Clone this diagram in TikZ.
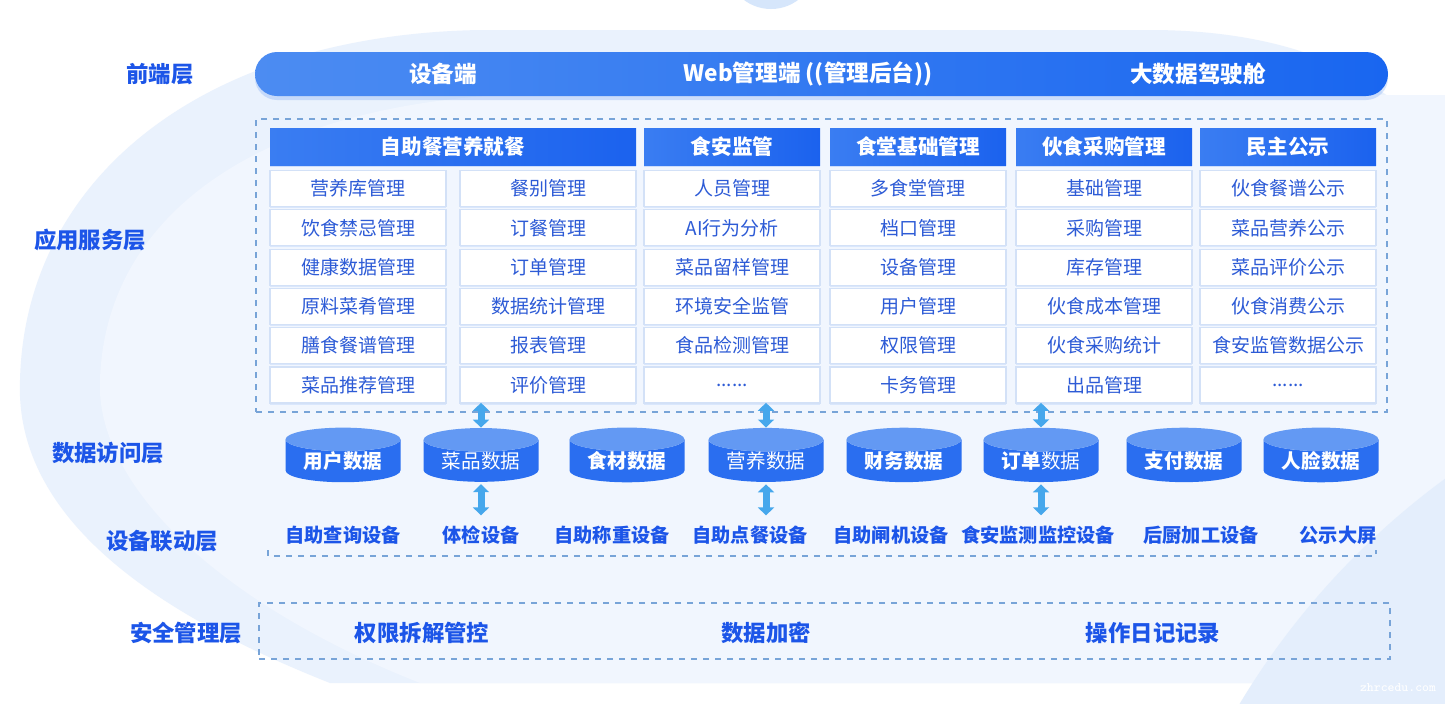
\documentclass[tikz,border=0pt]{standalone}
\usepackage{fontspec}
\setmainfont{Noto Sans CJK SC}
\newfontfamily\heavyfont{Noto Sans CJK SC Black}
\usetikzlibrary{positioning,shapes.geometric,arrows.meta,shadows}

\definecolor{layerblue}{HTML}{1C55E8}
\definecolor{cellblue}{HTML}{2D5BD6}
\definecolor{headleft}{HTML}{3A7DF2}
\definecolor{headright}{HTML}{1B62EE}
\definecolor{barleft}{HTML}{4C8CF2}
\definecolor{barright}{HTML}{1966F0}
\definecolor{dashblue}{HTML}{78A4D8}
\definecolor{arrowblue}{HTML}{46A7EC}
\definecolor{bgouter}{HTML}{EAF2FD}
\definecolor{bginner}{HTML}{F1F6FE}
\definecolor{bgcorner}{HTML}{E4EEFC}
\definecolor{bgdot}{HTML}{D6E6FB}
\definecolor{cellline}{HTML}{D3E1F7}
\definecolor{cylbody}{HTML}{2A6EF0}
\definecolor{cyltop}{HTML}{6399F3}

\tikzset{
  layer/.style={text=layerblue, inner sep=0pt, font=\heavyfont\fontsize{11.2}{13}\selectfont},
  bartext/.style={text=white, inner sep=0pt, font=\heavyfont\fontsize{11.3}{13}\selectfont},
  head/.style={minimum width=88pt, minimum height=18.5pt, inner sep=0pt,
    left color=headleft, right color=headright, text=white,
    font=\bfseries\fontsize{10.3}{12}\selectfont,
    drop shadow={shadow xshift=0pt, shadow yshift=-1pt, fill=headleft, opacity=0.2}},
  cell/.style={draw=cellline, line width=0.6pt, fill=white, minimum width=88pt,
    minimum height=18pt, inner sep=0pt, text=cellblue,
    font=\fontsize{9.5}{11}\selectfont,
    drop shadow={shadow xshift=0pt, shadow yshift=-0.8pt, fill=headleft, opacity=0.12}},
  cyl/.style={cylinder, shape border rotate=90, aspect=0.3, minimum width=57.5pt,
    minimum height=24pt, inner sep=0pt, cylinder uses custom fill,
    cylinder body fill=cylbody, cylinder end fill=cyltop, text=white,
    font=\heavyfont\fontsize{9.8}{12}\selectfont},
  devtext/.style={text=layerblue, inner sep=0pt, font=\heavyfont\fontsize{9.6}{12}\selectfont},
  sectext/.style={text=layerblue, inner sep=0pt, font=\heavyfont\fontsize{11.2}{13}\selectfont},
  dashbox/.style={draw=dashblue, dashed, line width=0.8pt, inner sep=0pt},
  biarrow/.style={{Triangle[width=8pt,length=4pt]}-{Triangle[width=8pt,length=4pt]},
    line width=3.5pt, draw=arrowblue},
}

\begin{document}
\begin{tikzpicture}[x=0.5pt, y=-0.5pt]
  \path[use as bounding box] (0,0) rectangle (1445,703);

  % background
  \begin{scope}
    \clip (0,0) rectangle (1445,703);
    \fill[white] (0,0) rectangle (1445,703);
    \fill[bgouter] (330,683) .. controls (120,600) and (15,500) .. (20,380)
      .. controls (25,180) and (200,35) .. (480,30) -- (1150,30)
      .. controls (1350,30) and (1445,120) .. (1445,200) -- (1445,683) -- cycle;
    \fill[bginner] (420,683) .. controls (210,600) and (95,480) .. (100,380)
      .. controls (105,220) and (250,110) .. (500,95) -- (1445,95) -- (1445,683) -- cycle;
    \fill[bgcorner] (1900,1100) circle (770);
    \fill[bgdot] (771,-36) circle (45);
  \end{scope}

  % layer names
  \node[layer] (l1) at (160,74) {前端层};
  \node[layer] (l2) at (90,240) {应用服务层};
  \node[layer] (l3) at (108,453) {数据访问层};
  \node[layer] (l4) at (162,541) {设备联动层};
  \node[layer] (l5) at (186,633) {安全管理层};

  % front end
  \node[rounded corners=11pt, minimum width=566.5pt, minimum height=22pt,
    left color=barleft, right color=barright,
    drop shadow={shadow xshift=0pt, shadow yshift=-2pt, fill=headleft, opacity=0.2}]
    (front) at (821.5,74) {};
  \node[bartext] (f1) at (443,74) {设备端};
  \node[bartext] (f2) at (808,74) {Web管理端 ((管理后台))};
  \node[bartext] (f3) at (1198,74) {大数据驾驶舱};

  % application services
  \node[dashbox, minimum width=565.5pt, minimum height=146.5pt] (appbox) at (821.5,265.5) {};

  \node[head, minimum width=183pt] (h1) at (453,146.5) {自助餐营养就餐};
  \node[head] (h2) at (732,146.5) {食安监管};
  \node[head] (h3) at (918,146.5) {食堂基础管理};
  \node[head] (h4) at (1104,146.5) {伙食采购管理};
  \node[head] (h5) at (1288,146.5) {民主公示};

  \node[cell] (a1) at (358,188.5) {营养库管理};
  \node[cell] (a2) [below=1.05pt of a1] {饮食禁忌管理};
  \node[cell] (a3) [below=1.05pt of a2] {健康数据管理};
  \node[cell] (a4) [below=1.05pt of a3] {原料菜肴管理};
  \node[cell] (a5) [below=1.05pt of a4] {膳食餐谱管理};
  \node[cell] (a6) [below=1.05pt of a5] {菜品推荐管理};

  \node[cell] (b1) at (548,188.5) {餐别管理};
  \node[cell] (b2) [below=1.05pt of b1] {订餐管理};
  \node[cell] (b3) [below=1.05pt of b2] {订单管理};
  \node[cell] (b4) [below=1.05pt of b3] {数据统计管理};
  \node[cell] (b5) [below=1.05pt of b4] {报表管理};
  \node[cell] (b6) [below=1.05pt of b5] {评价管理};

  \node[cell] (c1) at (732,188.5) {人员管理};
  \node[cell] (c2) [below=1.05pt of c1] {AI行为分析};
  \node[cell] (c3) [below=1.05pt of c2] {菜品留样管理};
  \node[cell] (c4) [below=1.05pt of c3] {环境安全监管};
  \node[cell] (c5) [below=1.05pt of c4] {食品检测管理};
  \node[cell] (c6) [below=1.05pt of c5] {......};

  \node[cell] (d1) at (918,188.5) {多食堂管理};
  \node[cell] (d2) [below=1.05pt of d1] {档口管理};
  \node[cell] (d3) [below=1.05pt of d2] {设备管理};
  \node[cell] (d4) [below=1.05pt of d3] {用户管理};
  \node[cell] (d5) [below=1.05pt of d4] {权限管理};
  \node[cell] (d6) [below=1.05pt of d5] {卡务管理};

  \node[cell] (e1) at (1104,188.5) {基础管理};
  \node[cell] (e2) [below=1.05pt of e1] {采购管理};
  \node[cell] (e3) [below=1.05pt of e2] {库存管理};
  \node[cell] (e4) [below=1.05pt of e3] {伙食成本管理};
  \node[cell] (e5) [below=1.05pt of e4] {伙食采购统计};
  \node[cell] (e6) [below=1.05pt of e5] {出品管理};

  \node[cell] (g1) at (1288,188.5) {伙食餐谱公示};
  \node[cell] (g2) [below=1.05pt of g1] {菜品营养公示};
  \node[cell] (g3) [below=1.05pt of g2] {菜品评价公示};
  \node[cell] (g4) [below=1.05pt of g3] {伙食消费公示};
  \node[cell] (g5) [below=1.05pt of g4] {食安监管数据公示};
  \node[cell] (g6) [below=1.05pt of g5] {......};

  % data access
  \node[cyl] (db1) at (343,461) {用户数据};
  \node[cyl, font=\fontsize{9.8}{12}\selectfont] (db2) at (481,461) {菜品数据};
  \node[cyl] (db3) at (627,461) {食材数据};
  \node[cyl, font=\fontsize{9.8}{12}\selectfont] (db4) at (766,461) {营养数据};
  \node[cyl] (db5) at (904,461) {财务数据};
  \node[cyl] (db6) at (1041,461) {订单{\normalfont\fontsize{9.8}{12}\selectfont 数据}};
  \node[cyl] (db7) at (1184,461) {支付数据};
  \node[cyl] (db8) at (1321,461) {人脸数据};

  % devices
  \node[devtext] (v1) at (343,535) {自助查询设备};
  \node[devtext] (v2) at (481,535) {体检设备};
  \node[devtext] (v3) at (612,535) {自助称重设备};
  \node[devtext] (v4) at (750,535) {自助点餐设备};
  \node[devtext] (v5) at (891,535) {自助闸机设备};
  \node[devtext] (v6) at (1038,535) {食安监测监控设备};
  \node[devtext] (v7) at (1201,535) {后厨加工设备};
  \node[devtext] (v8) at (1338,535) {公示大屏};

  \coordinate (dl) at (268,550);
  \coordinate (dr) at (1376,550);
  \draw[draw=dashblue, dashed, line width=0.8pt] (dl) -- ++(0,6) -| (dr);

  % arrows
  \coordinate (up2) at ([yshift=5pt]db2.north |- appbox.south);
  \coordinate (up4) at ([yshift=5pt]db4.north |- appbox.south);
  \coordinate (up6) at ([yshift=5pt]db6.north |- appbox.south);
  \draw[biarrow] (up2) -- (db2.north);
  \draw[biarrow] (up4) -- (db4.north);
  \draw[biarrow] (up6) -- (db6.north);
  \draw[biarrow, shorten <=1pt, shorten >=5pt] (db2.south) -- (v2.north -| db2.south);
  \draw[biarrow, shorten <=1pt, shorten >=5pt] (db4.south) -- (v4.north -| db4.south);
  \draw[biarrow, shorten <=1pt, shorten >=5pt] (db6.south) -- (v6.north -| db6.south);

  % security
  \node[dashbox, minimum width=565.5pt, minimum height=28pt] (secbox) at (824.5,631) {};
  \node[sectext] (s1) at (422,633) {权限拆解管控};
  \node[sectext] (s2) at (766,633) {数据加密};
  \node[sectext] (s3) at (1153,633) {操作日记记录};

  \node[text=white, font=\ttfamily\fontsize{6.5}{8}\selectfont] (wm) at (1398,688) {zhrcedu.com};
\end{tikzpicture}
\end{document}
